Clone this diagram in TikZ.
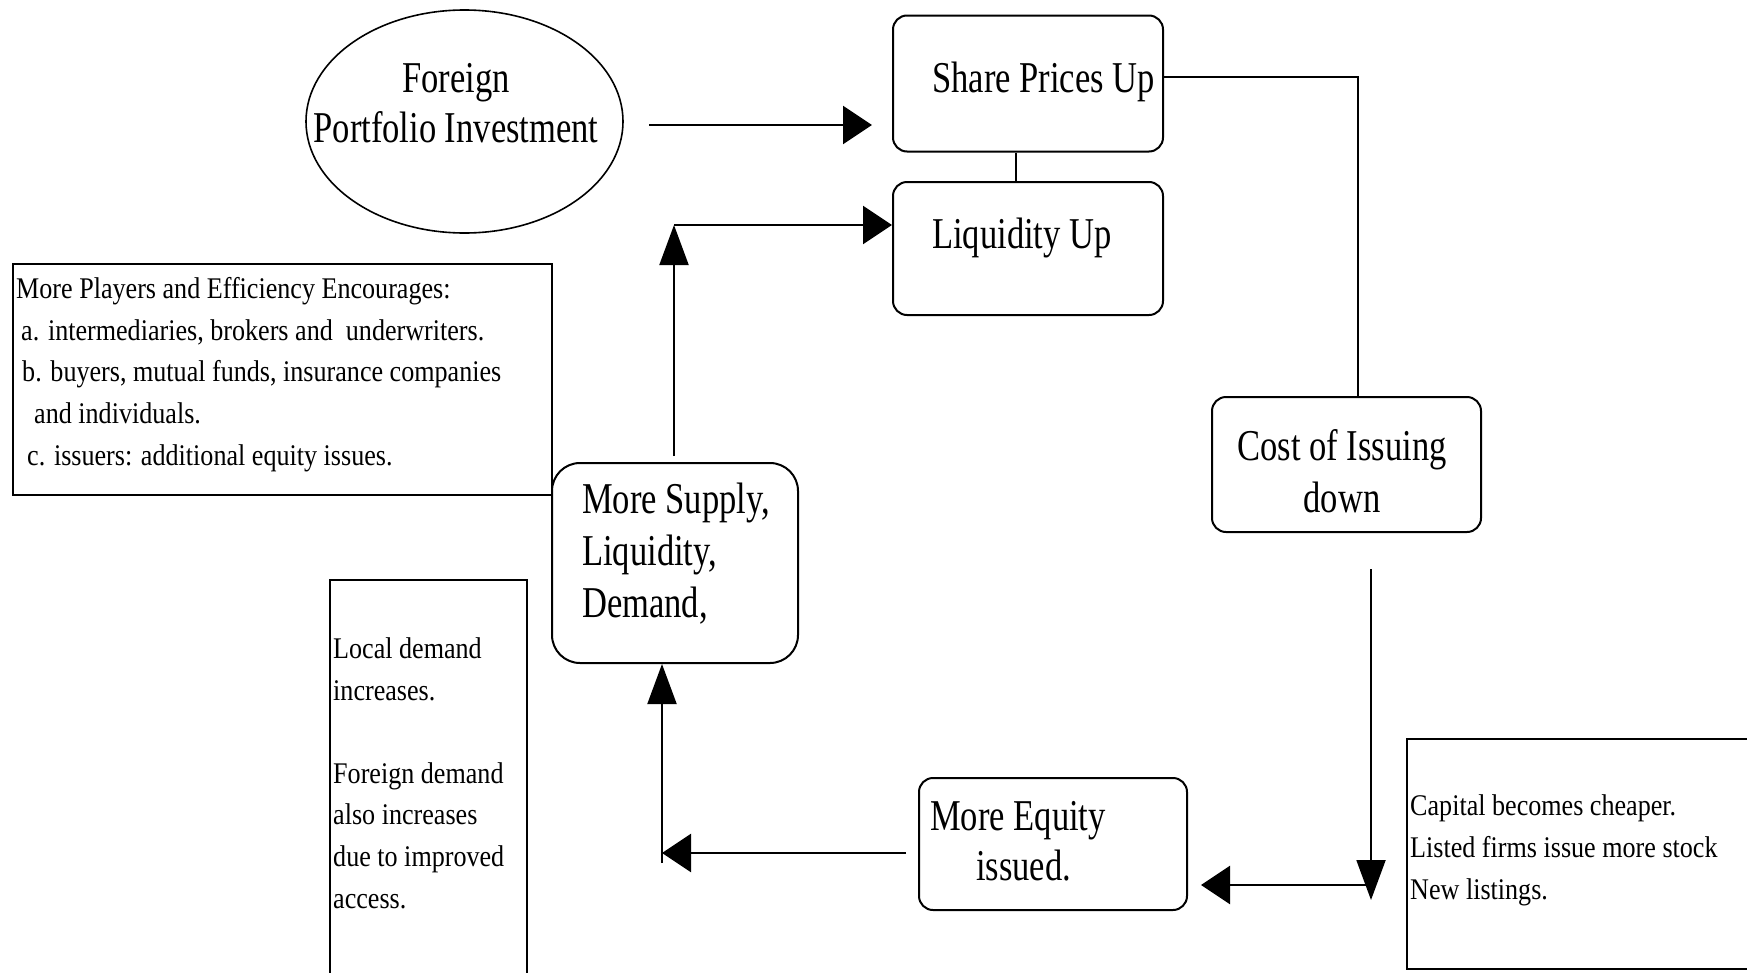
\documentclass[tikz,border=0pt]{standalone}
\usepackage{fontspec}
\usetikzlibrary{shapes.geometric,arrows.meta}
\newfontfamily\bigf[FakeStretch=0.785]{Liberation Serif}
\newfontfamily\smallf[FakeStretch=0.87]{Liberation Serif}
\tikzset{
 rbox/.style={draw, line width=2pt, rounded corners=14pt, inner sep=0pt},
 pbox/.style={draw, line width=2pt, inner sep=0pt},
 bigt/.style={font=\bigf\fontsize{44}{50}\selectfont, inner sep=0pt},
 smallt/.style={font=\smallf\fontsize{30}{41.6}\selectfont, inner sep=0pt, align=left},
 harr/.style={line width=2.5pt, -{Triangle[length=29pt,width=38pt]}},
 varr/.style={line width=2pt, -{Triangle[length=40pt,width=29pt]}},
 thinl/.style={line width=1.6pt},
}
\begin{document}
\begin{tikzpicture}[x=1pt,y=-1pt]
\clip (0,0) rectangle (1747,972);
\fill[white] (0,0) rectangle (1747,972);

% ellipse
\node[draw, ellipse, line width=1.6pt, minimum width=317pt, minimum height=223pt, inner sep=0pt] (fpi) at (464.5,121.5) {};
\node[bigt, align=center, anchor=base] (fpit) at (456,142) {Foreign\\Portfolio Investment};

% share prices / liquidity
\node[rbox, minimum width=270pt, minimum height=136pt] (spu) at (1028,83.5) {};
\node[bigt, anchor=base west] (sput) at (932,92) {Share Prices Up};
\node[rbox, minimum width=270pt, minimum height=133pt] (liq) at (1028,248.5) {};
\node[bigt, anchor=base west] (liqt) at (932,248) {Liquidity Up};
\draw[thinl] ([xshift=-12pt]spu.south) -- ([xshift=-12pt]liq.north);

% cost of issuing
\node[rbox, minimum width=269pt, minimum height=135pt] (cost) at (1346.5,464.5) {};
\node[bigt, font=\bigf\fontsize{44}{52}\selectfont, align=center, anchor=base] (costt) at (1342,512) {Cost of Issuing\\down};

% more supply
\node[rbox, rounded corners=28pt, minimum width=246pt, minimum height=200pt] (supply) at (675,563) {};
\node[bigt, font=\bigf\fontsize{44}{52}\selectfont, align=left, anchor=base west] (supplyt) at (582,617) {More Supply,\\Liquidity,\\Demand,};

% more equity
\node[rbox, minimum width=268pt, minimum height=132pt] (equity) at (1053,844) {};
\node[bigt, align=left, anchor=base west] (equityt) at (930,880) {More Equity\\\hspace*{46pt}issued.};

% players box
\node[pbox, minimum width=539pt, minimum height=231pt] (players) at (282.5,379.5) {};
\node[smallt, anchor=base west] (playerst) at (16,465) {More Players and Efficiency Encourages:\\
\hspace*{5pt}a. intermediaries, brokers and\ \ underwriters.\\
\hspace*{6pt}b. buyers, mutual funds, insurance companies\\
\hspace*{18pt}and individuals.\\
\hspace*{11pt}c. issuers: additional equity issues.};

% local demand box
\node[pbox, minimum width=197pt, minimum height=440pt] (local) at (428.5,800) {};
\node[smallt, anchor=base west] (localt) at (333,908) {Local demand\\increases.\\[41.6pt]Foreign demand\\also increases\\due to improved\\access.};

% capital box
\node[pbox, minimum width=353pt, minimum height=230pt] (capital) at (1583.5,854) {};
\node[smallt, anchor=base west] (capitalt) at (1410,899) {Capital becomes cheaper.\\Listed firms issue more stock\\New listings.};

% connectors
\coordinate (fpiout) at (649,125);
\draw[harr] (fpiout) -- ([xshift=-20pt]fpiout -| spu.west);

\coordinate (c1) at (674,225);
\draw[varr] ([yshift=6pt]supply.north -| c1) -- (c1);
\draw[harr] (c1) -- (c1 -| liq.west);

\coordinate (c2) at (662,853);
\draw[harr] ([xshift=-12pt]equity.west |- c2) -- (c2);
\draw[varr] ([yshift=-10pt]c2) -- (c2 |- supply.south);

\coordinate (c3) at (1371,885);
\draw[varr] ([yshift=-36pt]cost.south -| c3) -- ([yshift=-15pt]c3);
\draw[harr] (c3) -- ([xshift=13pt]equity.east |- c3);

\coordinate (c4) at (1358,77);
\draw[thinl] (spu.east |- c4) -- (c4) -- (c4 |- cost.north);
\end{tikzpicture}
\end{document}
